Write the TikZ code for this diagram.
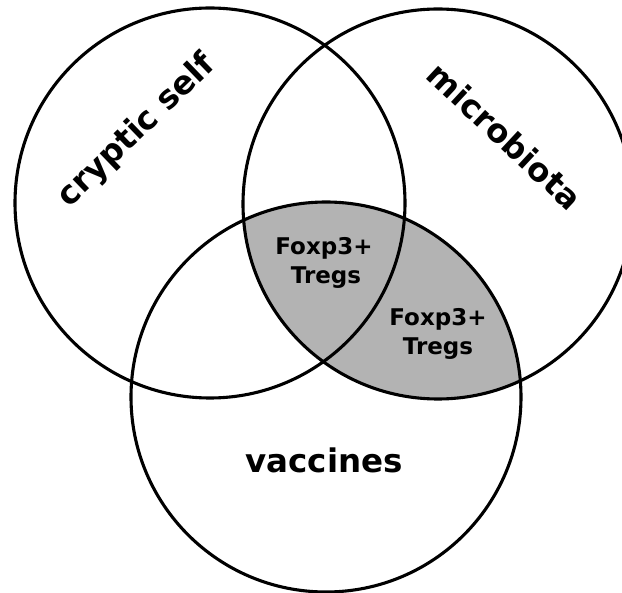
\documentclass[tikz,border=0pt]{standalone}
\usepackage{fontspec}
\setmainfont{DejaVu Sans}
\definecolor{regiongray}{RGB}{179,179,179}
\begin{document}
\begin{tikzpicture}[x=1pt,y=-1pt,
  ring/.style={draw=black,line width=3.1pt},
  biglabel/.style={inner sep=0pt,font=\bfseries\fontsize{32.5}{38}\selectfont},
  smalllabel/.style={inner sep=0pt,anchor=base,font=\bfseries\fontsize{23}{27}\selectfont}]
\useasboundingbox (0,0) rectangle (622,593);
\clip (0,0) rectangle (622,593);
\fill[white] (0,0) rectangle (622,593);
\coordinate (A) at (210,203);
\coordinate (B) at (438,204);
\coordinate (C) at (326,397);
\begin{scope}
  \clip (B) circle[radius=195pt];
  \fill[regiongray] (C) circle[radius=195pt];
\end{scope}
\draw[ring] (A) circle[radius=195pt];
\draw[ring] (B) circle[radius=195pt];
\draw[ring] (C) circle[radius=195pt];
\node[biglabel,rotate=44] (crypt) at (137,131) {cryptic self};
\node[biglabel,rotate=-43] (micro) at (505,136) {microbiota};
\node[biglabel,anchor=base] (vacc) at (324,473) {vaccines};
\node[smalllabel] (fox1) at (324,255) {Foxp3+};
\node[smalllabel] (treg1) at (326,284) {Tregs};
\node[smalllabel] (fox2) at (438,326) {Foxp3+};
\node[smalllabel] (treg2) at (438,355) {Tregs};
\end{tikzpicture}
\end{document}
